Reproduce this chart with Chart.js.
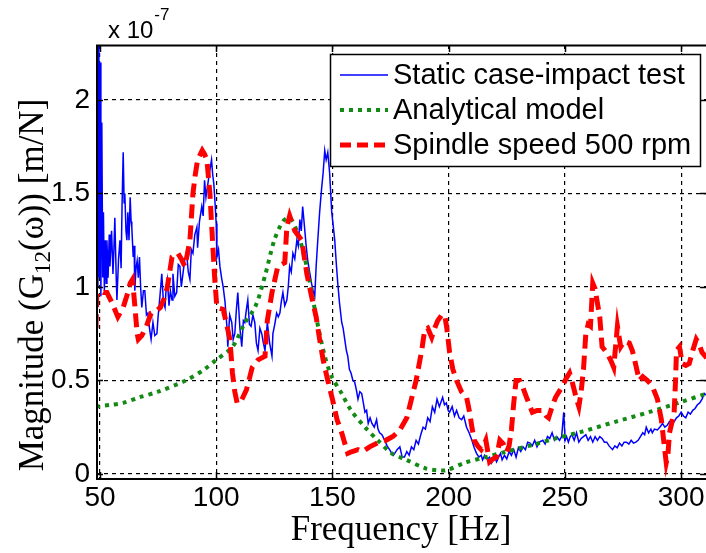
<!DOCTYPE html>
<html>
<head>
<meta charset="utf-8">
<script src="https://cdn.jsdelivr.net/npm/chart.js@4.4.0/dist/chart.umd.min.js"></script>
<style>
  html, body { margin: 0; padding: 0; background: #fff; }
  canvas { display: block; }
</style>
</head>
<body>
<canvas id="frfChart" width="706" height="553"></canvas>
<script>
// magnitudes are in units of 1e-7 m/N, frequencies in Hz
const xTicks = [50, 100, 150, 200, 250, 300];
const yTicks = [0, 0.5, 1, 1.5, 2];
const seriesLabels = ["Static case-impact test", "Analytical model", "Spindle speed 500 rpm"];

// [frequency, magnitude]
const staticTest = [
  [48.3,0.95],[48.5,1.30],[48.7,0.90],[48.9,2.60],[49.1,1.00],[49.3,1.20],[49.5,2.45],[49.8,1.05],
  [50.1,2.20],[50.4,0.95],[50.8,1.88],[51.2,1.05],[51.5,1.40],[51.9,0.98],[52.3,1.25],[52.7,1.02],
  [53,1.25],[53.5,1.05],[54,1.28],[54.3,1.11],[55,1.30],[55.6,1.07],[56,1.20],[56.4,1.37],[57,1.05],
  [57.3,0.93],[58,1.15],[58.6,1.25],[59.1,1.10],[59.5,1.43],[60,1.72],[60.4,1.45],[60.7,1.50],
  [61.2,1.30],[61.6,1.25],[62,1.40],[62.5,1.25],[63,1.48],[63.4,1.35],[63.7,1.32],[64.3,1.16],
  [64.7,1.22],[65,0.98],[65.5,1.10],[66,1.14],[66.5,1.05],[67,1.16],[67.5,1.00],[68,0.89],[68.7,0.98],
  [69.3,0.98],[70,0.85],[70.6,0.86],[71.3,0.78],[72,0.72],[72.8,0.81],[73.6,0.74],[74.5,0.75],
  [75,0.84],[75.8,0.95],[76.6,1.07],[77.3,0.92],[78,0.89],[78.5,1.00],[79,1.04],[79.7,0.90],
  [80.3,0.98],[81,0.93],[81.4,1.07],[82.2,0.95],[83,0.97],[83.7,1.12],[84.4,1.11],[85,1.00],
  [85.7,1.07],[86.5,1.15],[87.4,1.16],[88,1.08],[88.7,1.04],[89.3,1.20],[90,1.18],[90.8,1.28],
  [91.7,1.32],[92,1.21],[92.8,1.35],[93.8,1.43],[94.4,1.38],[95,1.57],[95.6,1.48],[96.4,1.55],
  [97.2,1.62],[98,1.68],[98.5,1.60],[99,1.55],[99.5,1.45],[100,1.34],[100.3,1.16],[101,1.20],
  [101.6,1.11],[102.3,1.05],[103,1.00],[103.8,0.92],[104.6,0.79],[105,0.68],[105.8,0.85],
  [106.7,0.81],[107.3,0.72],[108,0.75],[108.7,0.88],[109.3,0.97],[110.2,0.78],[111,0.68],
  [111.7,0.82],[112.3,0.81],[113,0.88],[113.6,0.93],[114.3,0.80],[115,0.79],[115.8,0.85],
  [116.6,0.81],[117.3,0.70],[118,0.66],[118.8,0.78],[119.6,0.75],[120.3,0.70],[121,0.66],
  [121.6,0.75],[122,0.81],[123,0.70],[124,0.63],[124.4,0.75],[125.2,0.80],[126,0.86],[126.7,0.84],
  [127.4,0.86],[128,0.92],[128.7,0.97],[129.5,0.90],[130.4,0.93],[131,1.00],[131.6,1.11],
  [132.3,1.08],[133,1.18],[133.8,1.15],[134.7,1.25],[135.3,1.22],[136,1.36],[136.6,1.30],
  [137.2,1.43],[138,1.32],[138.7,1.22],[139.4,1.14],[140.2,1.08],[141,1.02],[141.7,0.98],
  [142.4,0.95],[143,1.11],[143.7,1.25],[144.5,1.40],[145.3,1.52],[146,1.61],[146.7,1.73],
  [147.3,1.68],[148,1.72],[148.8,1.61],[149.7,1.40],[150.4,1.32],[151,1.25],[151.7,1.12],
  [152.3,1.02],[153,0.92],[154,0.81],[154.6,0.78],[155.3,0.72],[156,0.66],[156.6,0.63],
  [157.3,0.56],[158,0.54],[158.8,0.50],[159.6,0.49],[160.3,0.45],[161,0.40],[161.8,0.44],
  [162.6,0.43],[163.3,0.38],[164,0.33],[164.7,0.34],[165.4,0.27],[166.2,0.30],[167,0.27],
  [168,0.25],[169,0.29],[169.6,0.24],[170.3,0.22],[171.3,0.21],[172.5,0.18],[173.5,0.15],
  [174.6,0.13],[175.5,0.11],[176.2,0.10],[176.8,0.11],[177.8,0.13],[179,0.145],[180,0.09],
  [181,0.09],[182,0.12],[183,0.10],[184,0.145],[185,0.13],[186,0.18],[187,0.16],[188,0.21],
  [189,0.25],[190,0.24],[191,0.30],[192,0.28],[193,0.36],[194,0.33],[195,0.40],[196,0.36],
  [197.4,0.41],[198.2,0.37],[199,0.38],[199.8,0.34],[200.4,0.33],[201.5,0.36],[202.5,0.31],
  [203.4,0.34],[204.5,0.30],[205.6,0.29],[206.5,0.31],[207.7,0.25],[208.8,0.22],[210,0.18],
  [211,0.14],[212,0.11],[213,0.09],[214,0.10],[214.6,0.075],[215.5,0.10],[216.5,0.08],
  [217.6,0.09],[218.5,0.06],[219.5,0.10],[220.6,0.065],[221.5,0.09],[222.3,0.11],[223,0.075],
  [224,0.10],[225,0.08],[226,0.12],[227,0.10],[228,0.13],[229,0.09],[230,0.14],[231,0.12],
  [232,0.145],[233,0.13],[234,0.17],[235,0.165],[236,0.15],[237,0.18],[238,0.145],[239,0.17],
  [240.5,0.18],[241.5,0.16],[242.5,0.20],[243.5,0.19],[244.5,0.22],[245.5,0.18],[246.5,0.20],
  [247.7,0.18],[248.6,0.20],[249.5,0.33],[250.1,0.18],[250.7,0.20],[251.5,0.17],[252.3,0.20],
  [253,0.21],[254,0.18],[255,0.22],[256,0.17],[257,0.19],[258,0.20],[259,0.21],[260,0.18],
  [261,0.20],[262,0.17],[263,0.20],[264,0.18],[265,0.20],[266,0.19],[267,0.17],[268,0.17],
  [269,0.15],[270.5,0.13],[271.5,0.15],[272.5,0.14],[273.5,0.165],[274.5,0.15],[275.5,0.17],
  [276.5,0.17],[277.5,0.16],[278.5,0.18],[279.5,0.165],[280.5,0.17],[281.5,0.18],[282.5,0.20],
  [283.5,0.22],[284.3,0.21],[285,0.25],[286,0.22],[287,0.24],[287.6,0.22],[288.5,0.24],
  [289.8,0.235],[290.8,0.25],[292,0.27],[293,0.25],[294,0.26],[295,0.28],[296,0.29],[297,0.28],
  [298,0.30],[299,0.31],[300,0.33],[301,0.31],[302,0.30],[303,0.33],[304,0.32],[305,0.34],
  [306,0.35],[307,0.37],[308,0.38],[309,0.40],[310,0.43],[311,0.42]
];

const analyticalModel = [
  [48.3,0.36],[55,0.37],[60,0.38],[67,0.41],[75,0.44],[87,0.50],[95,0.56],[100,0.61],[107,0.68],
  [112,0.80],[117,0.90],[121,1.06],[125,1.25],[128.7,1.35],[131.6,1.37],[135,1.29],[138,1.16],
  [141,0.98],[143,0.84],[146.7,0.63],[149.7,0.52],[154,0.43],[158,0.34],[164,0.25],[169.5,0.18],
  [175.5,0.11],[181,0.08],[190,0.03],[195,0.02],[199,0.02],[207,0.06],[216,0.09],[225,0.12],
  [236,0.155],[246,0.19],[257,0.225],[272,0.28],[286,0.33],[300,0.385],[311,0.43]
];

const spindle500 = [
  [48.3,0.78],[48.6,0.95],[49.2,0.97],[50,0.98],[51.5,0.97],[53,0.97],[55,0.92],[57.7,0.84],
  [60,0.89],[62,0.97],[63,1.02],[64,1.04],[65,0.90],[66,0.75],[66.5,0.72],[68,0.74],[70,0.79],
  [72,0.86],[74,0.87],[76,0.89],[78,0.95],[79,1.00],[81,1.16],[83.5,1.18],[85,1.15],[86.5,1.11],
  [87.5,1.17],[88.7,1.25],[90,1.50],[91,1.60],[92,1.68],[94,1.73],[95,1.71],[96,1.68],[97.3,1.50],
  [98.6,1.21],[99.4,1.04],[100.3,0.89],[103,0.88],[104.5,0.80],[105.9,0.72],[107,0.54],[108,0.44],
  [109,0.38],[110.3,0.38],[111.5,0.41],[113,0.45],[114.5,0.52],[115.5,0.57],[118,0.61],[121,0.63],
  [122,0.82],[124,0.97],[126.5,1.11],[129.5,1.13],[130.4,1.32],[131.6,1.38],[133.8,1.30],
  [136.8,1.25],[139,1.07],[141,0.95],[143,0.84],[144.5,0.72],[146,0.61],[148,0.50],[150,0.40],
  [152,0.29],[154,0.22],[156.6,0.11],[158.5,0.12],[161,0.13],[163,0.12],[166,0.145],[170,0.17],
  [173,0.18],[176,0.20],[179,0.235],[182,0.30],[184,0.40],[186,0.50],[188.4,0.66],[189.7,0.77],
  [191,0.78],[192.7,0.73],[194,0.78],[195.3,0.82],[197,0.85],[198.3,0.85],[199.2,0.78],
  [200.4,0.65],[201.8,0.56],[203.4,0.50],[205.5,0.44],[207.7,0.41],[209,0.33],[210,0.25],
  [211,0.18],[212.5,0.15],[214,0.13],[215,0.15],[216,0.18],[217.6,0.065],[219,0.08],[220.6,0.09],
  [222,0.18],[223.5,0.16],[225,0.12],[226,0.15],[227,0.235],[228,0.38],[229,0.50],[230.5,0.50],
  [232,0.46],[233.5,0.41],[235,0.36],[236,0.33],[238,0.34],[240.5,0.34],[242,0.31],[243,0.30],
  [244.5,0.36],[246,0.41],[247.5,0.44],[249,0.47],[250.5,0.51],[252,0.54],[253,0.50],[254,0.45],
  [255,0.40],[256,0.36],[257,0.44],[258,0.56],[259,0.75],[260,0.80],[261,0.79],[262,1.02],
  [263,0.99],[263.5,0.95],[265,0.84],[266,0.68],[268,0.65],[270,0.60],[271,0.57],[272.6,0.79],
  [274,0.68],[275.5,0.71],[277.7,0.70],[279,0.66],[280,0.61],[282,0.50],[283.5,0.52],[285.5,0.50],
  [287.6,0.47],[289.8,0.40],[291.5,0.29],[292.8,0.145],[293.6,0.06],[294.3,0.10],[295,0.22],
  [297,0.33],[297.6,0.50],[298,0.66],[299.3,0.68],[300.5,0.59],[302,0.58],[303.5,0.59],[305,0.66],
  [306.5,0.72],[307.5,0.70],[309,0.65],[311,0.62]
];

const toPoints = arr => arr.map(p => ({ x: p[0], y: p[1] }));

// rahmen, innere ticks, legende, exponent, y-titel
const matlabAxes = {
  id: "matlabAxes",
  afterDatasetsDraw(chart) {
    const { ctx, chartArea: a, scales: { x, y } } = chart;
    ctx.save();
    ctx.strokeStyle = "#000";
    ctx.setLineDash([]);
    ctx.lineWidth = 2;
    ctx.beginPath();
    ctx.moveTo(a.left, a.top + 0.5); ctx.lineTo(a.right, a.top + 0.5);
    ctx.moveTo(a.left + 1, a.top); ctx.lineTo(a.left + 1, a.bottom);
    ctx.moveTo(a.left, a.bottom); ctx.lineTo(a.right, a.bottom);
    ctx.stroke();

    ctx.lineWidth = 1.5;
    ctx.beginPath();
    xTicks.forEach(v => {
      const px = Math.round(x.getPixelForValue(v)) + 0.5;
      ctx.moveTo(px, a.bottom); ctx.lineTo(px, a.bottom - 7);
      ctx.moveTo(px, a.top); ctx.lineTo(px, a.top + 7);
    });
    yTicks.forEach(v => {
      const py = Math.round(y.getPixelForValue(v)) + 0.5;
      ctx.moveTo(a.left, py); ctx.lineTo(a.left + 7, py);
      ctx.moveTo(a.right, py); ctx.lineTo(a.right - 6, py);
    });
    ctx.stroke();

    // legend box
    const lx = 330, ly = 54, lw = 370, lh = 112;
    ctx.fillStyle = "#fff";
    ctx.fillRect(lx, ly, lw, lh);
    ctx.lineWidth = 1.5;
    ctx.strokeRect(lx + 0.5, ly + 0.5, lw, lh);
    const rows = [75, 110, 145];
    chart.data.datasets.forEach((ds, i) => {
      ctx.strokeStyle = ds.borderColor;
      ctx.lineWidth = ds.borderWidth;
      ctx.setLineDash(ds.legendDash || []);
      ctx.beginPath();
      ctx.moveTo(340, rows[i]); ctx.lineTo(388, rows[i]);
      ctx.stroke();
      ctx.setLineDash([]);
      ctx.fillStyle = "#000";
      ctx.font = "29px 'Liberation Sans', Arial, sans-serif";
      ctx.textAlign = "left";
      ctx.textBaseline = "middle";
      ctx.fillText(ds.label, 393, rows[i] + 1);
    });

    // exponent
    ctx.fillStyle = "#000";
    ctx.textBaseline = "alphabetic";
    ctx.font = "24px 'Liberation Sans', Arial, sans-serif";
    ctx.fillText("x 10", 108, 38);
    const ew = ctx.measureText("x 10").width;
    ctx.font = "17px 'Liberation Sans', Arial, sans-serif";
    ctx.fillText("-7", 108 + ew + 1, 20);

    // y title with subscript
    ctx.translate(43, 285);
    ctx.rotate(-Math.PI / 2);
    const big = "35px 'Liberation Serif', 'Times New Roman', serif";
    const small = "23px 'Liberation Serif', 'Times New Roman', serif";
    const parts = [["Magnitude (G", big, 0], ["12", small, 7], ["(\u03c9)) [m/N]", big, 0]];
    let total = 0;
    parts.forEach(p => { ctx.font = p[1]; total += ctx.measureText(p[0]).width; });
    let cx = -total / 2;
    parts.forEach(p => {
      ctx.font = p[1];
      ctx.fillText(p[0], cx, p[2]);
      cx += ctx.measureText(p[0]).width;
    });
    ctx.restore();
  }
};

new Chart(document.getElementById("frfChart"), {
  type: "line",
  data: {
    datasets: [
      {
        label: seriesLabels[0],
        data: toPoints(staticTest),
        borderColor: "#0000ff",
        borderWidth: 1.5,
        pointRadius: 0,
        order: 3
      },
      {
        label: seriesLabels[1],
        data: toPoints(analyticalModel),
        borderColor: "#138a13",
        borderWidth: 4,
        borderDash: [4, 5],
        legendDash: [4, 5],
        pointRadius: 0,
        tension: 0.3,
        order: 2
      },
      {
        label: seriesLabels[2],
        data: toPoints(spindle500),
        borderColor: "#ff0000",
        borderWidth: 5,
        borderDash: [14, 7],
        legendDash: [11, 6],
        pointRadius: 0,
        order: 1
      }
    ]
  },
  options: {
    responsive: false,
    animation: false,
    devicePixelRatio: 1,
    layout: { padding: { top: 45, right: 0, left: 0, bottom: 0 } },
    plugins: { legend: { display: false }, tooltip: { enabled: false } },
    scales: {
      x: {
        type: "linear",
        min: 48.3,
        max: 310.7,
        afterBuildTicks: s => { s.ticks = xTicks.map(v => ({ value: v })); },
        afterFit: s => { s.height = 74; s.paddingLeft = 0; s.paddingRight = 0; },
        ticks: {
          color: "#000",
          padding: 2,
          maxRotation: 0,
          callback: v => String(v),
          font: { family: "'Liberation Sans', Arial, sans-serif", size: 28 }
        },
        grid: { color: "#000", lineWidth: 1.2, drawTicks: false },
        border: { display: false, dash: [4, 4] },
        title: {
          display: true,
          text: "Frequency [Hz]",
          color: "#000",
          padding: { top: 0, bottom: 1 },
          font: { family: "'Liberation Serif', 'Times New Roman', serif", size: 35 }
        }
      },
      y: {
        type: "linear",
        min: -0.027,
        max: 2.294,
        afterBuildTicks: s => { s.ticks = yTicks.map(v => ({ value: v })); },
        afterFit: s => { s.width = 96; s.paddingTop = 0; s.paddingBottom = 0; },
        ticks: {
          color: "#000",
          padding: 6,
          callback: v => String(v),
          font: { family: "'Liberation Sans', Arial, sans-serif", size: 28 }
        },
        grid: { color: "#000", lineWidth: 1.2, drawTicks: false },
        border: { display: false, dash: [4, 4] }
      }
    }
  },
  plugins: [matlabAxes]
});
</script>
</body>
</html>
